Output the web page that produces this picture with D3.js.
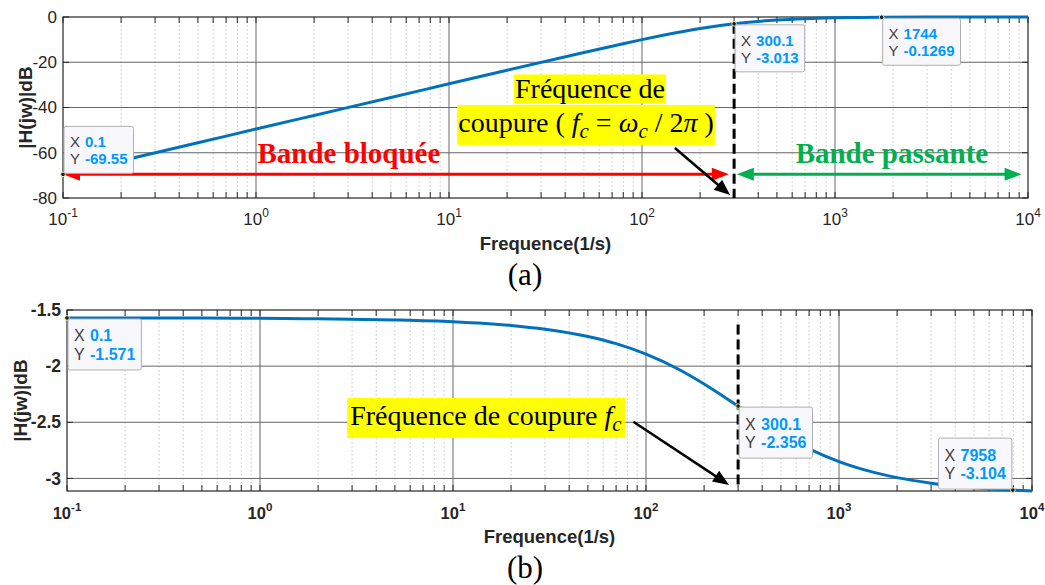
<!DOCTYPE html>
<html>
<head>
<meta charset="utf-8">
<script src="https://cdn.jsdelivr.net/npm/d3@7"></script>
<style>
  body { margin: 0; background: #fff; }
  svg { display: block; }
</style>
</head>
<body>
<svg id="chart" width="1045" height="585"></svg>
<script>
// values
const freqA  = [0.1, 0.2, 0.5, 1, 2, 5, 10, 20, 50, 70, 100, 150, 200, 300.1, 500, 700, 1000, 1744, 3000, 5000, 10000];
const magA   = [-69.55, -63.5, -55.6, -49.5, -43.5, -35.6, -29.5, -23.5, -15.7, -12.9, -10.0, -7.0, -5.1, -3.013, -1.34, -0.73, -0.37, -0.1269, -0.043, -0.016, -0.004];
const freqB  = [0.1, 0.5, 1, 2, 5, 10, 20, 30, 50, 70, 100, 150, 200, 300.1, 400, 500, 700, 1000, 1500, 2000, 3000, 5000, 7958, 10000];
const phaseB = [-1.571, -1.572, -1.574, -1.578, -1.588, -1.604, -1.637, -1.671, -1.736, -1.800, -1.893, -2.034, -2.159, -2.356, -2.498, -2.601, -2.737, -2.850, -2.944, -2.993, -3.042, -3.082, -3.104, -3.112];

const xDomain = [0.1, 10000];
const decadeExp = [-1, 0, 1, 2, 3, 4];
const yTicksA = [0, -20, -40, -60, -80];
const yTicksB = [-1.5, -2, -2.5, -3];

// data tips: x, y, placement
const tipsA = [[0.1, -69.55, "ur"], [300.1, -3.013, "dr"], [1744, -0.1269, "dr"]];
const tipsB = [[0.1, -1.571, "dr"], [300.1, -2.356, "dr"], [7958, -3.104, "ul"]];

const fc = 300.1;
const cutSpanB = [-1.63, -3.08];

// annotation anchors (data units)
const redBand = [0.1, 282, -69.55];
const greenBand = [310, 9270, -69.55];
const pointerA = [[148, -57.9], [286, -78.7]];
const pointerB = [[86, -2.495], [269, -3.058]];

const sans = "'Liberation Sans', Arial, Helvetica, sans-serif";
const serif = "'Liberation Serif', 'Times New Roman', serif";
const ink = "#262626";

const svg = d3.select("#chart");

function drawPanel(p) {
  const x = d3.scaleLog().domain(xDomain).range([p.left, p.right]);
  const y = d3.scaleLinear().domain(p.yDomain).range([p.bottom, p.top]);
  const g = svg.append("g");

  const allTicks = x.ticks();
  const isDecade = v => Math.abs(Math.log10(v) - Math.round(Math.log10(v))) < 1e-9;
  const minor = allTicks.filter(v => !isDecade(v));
  const major = decadeExp.map(e => Math.pow(10, e));

  // minor grid (dotted)
  g.append("g").selectAll("line").data(minor).join("line")
    .attr("x1", d => x(d)).attr("x2", d => x(d))
    .attr("y1", p.top).attr("y2", p.bottom)
    .attr("stroke", "#c6c6c6").attr("stroke-width", 1)
    .attr("stroke-dasharray", "1.5,2.5");

  // major grid
  g.append("g").selectAll("line").data(major.slice(1, -1)).join("line")
    .attr("x1", d => x(d)).attr("x2", d => x(d))
    .attr("y1", p.top).attr("y2", p.bottom)
    .attr("stroke", "#666").attr("stroke-width", 1);
  g.append("g").selectAll("line")
    .data(p.yTicks.filter(v => v > p.yDomain[0] && v < p.yDomain[1])).join("line")
    .attr("x1", p.left).attr("x2", p.right)
    .attr("y1", d => y(d)).attr("y2", d => y(d))
    .attr("stroke", "#666").attr("stroke-width", 1);

  // inward ticks on all four sides
  const tk = 6;
  const tg = g.append("g").attr("stroke", ink).attr("stroke-width", 1);
  tg.selectAll(".tb").data(allTicks).join("line")
    .attr("x1", d => x(d)).attr("x2", d => x(d))
    .attr("y1", p.bottom).attr("y2", p.bottom - tk);
  tg.selectAll(".tt").data(allTicks).join("line")
    .attr("x1", d => x(d)).attr("x2", d => x(d))
    .attr("y1", p.top).attr("y2", p.top + tk);
  tg.selectAll(".tl").data(p.yTicks).join("line")
    .attr("x1", p.left).attr("x2", p.left + tk)
    .attr("y1", d => y(d)).attr("y2", d => y(d));
  tg.selectAll(".tr").data(p.yTicks).join("line")
    .attr("x1", p.right).attr("x2", p.right - tk)
    .attr("y1", d => y(d)).attr("y2", d => y(d));

  // frame
  g.append("rect")
    .attr("x", p.left).attr("y", p.top)
    .attr("width", p.right - p.left).attr("height", p.bottom - p.top)
    .attr("fill", "none").attr("stroke", ink).attr("stroke-width", 1.2);

  // x tick labels 10^n
  const xl = g.append("g").attr("font-family", sans).attr("fill", ink)
    .attr("font-weight", p.bold ? "bold" : "normal");
  xl.selectAll("text").data(decadeExp).join("text")
    .attr("x", d => x(Math.pow(10, d)))
    .attr("y", p.bottom + p.xLabOff)
    .attr("text-anchor", "middle")
    .attr("font-size", p.xFs)
    .each(function(d) {
      const t = d3.select(this);
      t.append("tspan").text("10");
      t.append("tspan").attr("dy", -8).attr("font-size", p.xFs * 0.7).text(d);
    });

  // y tick labels
  g.append("g").selectAll("text").data(p.yTicks).join("text")
    .attr("x", p.left - 6).attr("y", d => y(d)).attr("dy", "0.35em")
    .attr("text-anchor", "end")
    .attr("font-family", sans).attr("font-size", p.yFs).attr("fill", ink)
    .attr("font-weight", p.bold ? "bold" : "normal")
    .text(d => d);

  // axis titles
  g.append("text")
    .attr("x", (p.left + p.right) / 2).attr("y", p.xTitleY)
    .attr("text-anchor", "middle")
    .attr("font-family", sans).attr("font-weight", "bold").attr("font-size", 18.5)
    .attr("fill", ink).text("Frequence(1/s)");
  g.append("text")
    .attr("transform", `translate(${p.yTitleX},${(p.top + p.bottom) / 2}) rotate(-90)`)
    .attr("dy", "0.35em")
    .attr("text-anchor", "middle")
    .attr("font-family", sans).attr("font-weight", "bold").attr("font-size", 19)
    .attr("fill", ink).text("|H(jw)|dB");

  // panel caption
  g.append("text")
    .attr("x", 525).attr("y", p.captionY)
    .attr("text-anchor", "middle")
    .attr("font-family", serif).attr("font-size", 31).attr("fill", "#000")
    .text(p.caption);

  // curve
  const line = d3.line()
    .x(d => x(d[0])).y(d => y(d[1]))
    .curve(d3.curveMonotoneX);
  g.append("path")
    .datum(d3.zip(p.freq, p.vals))
    .attr("d", line)
    .attr("fill", "none").attr("stroke", "#0072bd").attr("stroke-width", 3);

  return { x, y, g };
}

function arrow(g, x1, y1, x2, y2, color, width, len, half, both) {
  const L = Math.hypot(x2 - x1, y2 - y1);
  const ux = (x2 - x1) / L, uy = (y2 - y1) / L;
  const head = (tx, ty, dx, dy) => {
    const bx = tx - dx * len, by = ty - dy * len;
    return `M${tx},${ty}L${bx - dy * half},${by + dx * half}L${bx + dy * half},${by - dx * half}Z`;
  };
  const sx = both ? x1 + ux * len * 0.8 : x1, sy = both ? y1 + uy * len * 0.8 : y1;
  g.append("line")
    .attr("x1", sx).attr("y1", sy)
    .attr("x2", x2 - ux * len * 0.8).attr("y2", y2 - uy * len * 0.8)
    .attr("stroke", color).attr("stroke-width", width);
  g.append("path").attr("d", head(x2, y2, ux, uy)).attr("fill", color);
  if (both) g.append("path").attr("d", head(x1, y1, -ux, -uy)).attr("fill", color);
}

function highlight(g, textSel, padX, padY) {
  const b = textSel.node().getBBox();
  g.insert("rect", () => textSel.node())
    .attr("x", b.x - padX).attr("y", b.y - padY)
    .attr("width", b.width + 2 * padX).attr("height", b.height + 2 * padY)
    .attr("fill", "#ffff00");
}

function drawTips(g, x, y, tips, fs, h) {
  tips.forEach(t => {
    const px = x(t[0]), py = y(t[1]);
    const tg = g.append("g");
    const box = tg.append("rect");
    const valX = 6 + fs;
    const rows = [["X", String(t[0])], ["Y", String(t[1])]];
    let maxW = 0;
    rows.forEach((r, i) => {
      const yy = h * (i === 0 ? 0.33 : 0.70);
      tg.append("text").attr("x", 6).attr("y", yy).attr("dy", "0.35em")
        .attr("font-family", sans).attr("font-size", fs).attr("fill", "#404040")
        .text(r[0]);
      const v = tg.append("text").attr("x", valX).attr("y", yy).attr("dy", "0.35em")
        .attr("font-family", sans).attr("font-size", fs).attr("font-weight", "bold")
        .attr("fill", "#0099ff").text(r[1]);
      maxW = Math.max(maxW, v.node().getComputedTextLength());
    });
    const w = valX + maxW + 6;
    box.attr("width", w).attr("height", h).attr("rx", 2)
      .attr("fill", "#f8f8fc").attr("stroke", "#b0b0b0").attr("stroke-width", 1);
    let bx = px + 1, by = py + 1;
    if (t[2] === "ur") by = py - 1 - h;
    if (t[2] === "ul") { bx = px - 1 - w; by = py - 1 - h; }
    tg.attr("transform", `translate(${bx},${by})`);
    g.append("circle").attr("cx", px).attr("cy", py).attr("r", 2.3)
      .attr("fill", "#1a1a1a").attr("stroke", "#e6e4b4").attr("stroke-width", 1);
  });
}

// ---------- panel (a) ----------
const A = drawPanel({
  left: 63, right: 1028, top: 17, bottom: 198,
  yDomain: [-80, 0], yTicks: yTicksA,
  freq: freqA, vals: magA, bold: false,
  xFs: 17, yFs: 17, xLabOff: 27, xTitleY: 250, yTitleX: 25,
  captionY: 285, caption: "(a)"
});

{
  const { x, y, g } = A;
  // cut-off line
  g.append("line")
    .attr("x1", x(fc)).attr("x2", x(fc))
    .attr("y1", y(-3.013)).attr("y2", y(-80))
    .attr("stroke", "#000").attr("stroke-width", 3).attr("stroke-dasharray", "10,5");

  arrow(g, x(redBand[0]), y(redBand[2]), x(redBand[1]), y(redBand[2]), "#ff0000", 3, 17, 6.5, true);
  arrow(g, x(greenBand[0]), y(greenBand[2]), x(greenBand[1]), y(greenBand[2]), "#00b050", 3, 17, 6.5, true);

  g.append("text").attr("x", x(3.03)).attr("y", y(-64.75))
    .attr("text-anchor", "middle").attr("font-family", serif).attr("font-weight", "bold")
    .attr("font-size", 29).attr("fill", "#ff0000").text("Bande bloquée");
  g.append("text").attr("x", x(1972)).attr("y", y(-64.75))
    .attr("text-anchor", "middle").attr("font-family", serif).attr("font-weight", "bold")
    .attr("font-size", 29).attr("fill", "#00b050").text("Bande passante");

  // yellow label
  const ag = g.append("g");
  const t1 = ag.append("text").attr("x", x(53.8)).attr("y", y(-36.0))
    .attr("text-anchor", "middle").attr("font-family", serif).attr("font-size", 28)
    .text("Fréquence de");
  const t2 = ag.append("text").attr("x", x(51.3)).attr("y", y(-50.8))
    .attr("text-anchor", "middle").attr("font-family", serif).attr("font-size", 28);
  t2.append("tspan").text("coupure ( ");
  t2.append("tspan").attr("font-style", "italic").text("f");
  t2.append("tspan").attr("font-style", "italic").attr("font-size", 21).attr("dy", 6).text("c");
  t2.append("tspan").attr("dy", -6).text(" = ");
  t2.append("tspan").attr("font-style", "italic").text("ω");
  t2.append("tspan").attr("font-style", "italic").attr("font-size", 21).attr("dy", 6).text("c");
  t2.append("tspan").attr("dy", -6).text(" / 2");
  t2.append("tspan").attr("font-style", "italic").text("π");
  t2.append("tspan").text(" )");
  highlight(ag, t1, 1, -1);
  highlight(ag, t2, 1, 2);

  arrow(g, x(pointerA[0][0]), y(pointerA[0][1]), x(pointerA[1][0]), y(pointerA[1][1]), "#000", 2.5, 16, 6.5, false);

  drawTips(g, x, y, tipsA, 15, 47);
}

// ---------- panel (b) ----------
const B = drawPanel({
  left: 67, right: 1032, top: 310, bottom: 491,
  yDomain: [-3.112, -1.5], yTicks: yTicksB,
  freq: freqB, vals: phaseB, bold: true,
  xFs: 16.5, yFs: 17.5, xLabOff: 28, xTitleY: 543, yTitleX: 20,
  captionY: 578, caption: "(b)"
});

{
  const { x, y, g } = B;
  g.append("line")
    .attr("x1", x(fc)).attr("x2", x(fc))
    .attr("y1", y(cutSpanB[0])).attr("y2", y(cutSpanB[1]))
    .attr("stroke", "#000").attr("stroke-width", 3).attr("stroke-dasharray", "10,5");

  const bg = g.append("g");
  const t = bg.append("text").attr("x", x(14.8)).attr("y", y(-2.524))
    .attr("text-anchor", "middle").attr("font-family", serif).attr("font-size", 28);
  t.append("tspan").text("Fréquence de coupure ");
  t.append("tspan").attr("font-style", "italic").text("f");
  t.append("tspan").attr("font-style", "italic").attr("font-size", 21).attr("dy", 6).text("c");
  highlight(bg, t, 3, 2);

  arrow(g, x(pointerB[0][0]), y(pointerB[0][1]), x(pointerB[1][0]), y(pointerB[1][1]), "#000", 2.5, 16, 6.5, false);

  drawTips(g, x, y, tipsB, 16, 51);
}
</script>
</body>
</html>
